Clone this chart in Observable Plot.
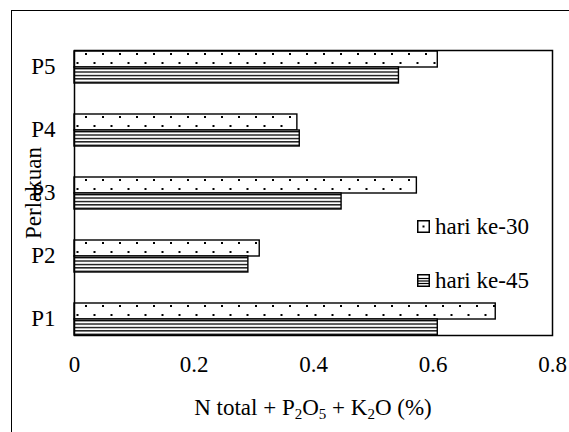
<!DOCTYPE html>
<html>
<head>
<meta charset="utf-8">
<script src="https://cdn.jsdelivr.net/npm/d3@7"></script>
<script src="https://cdn.jsdelivr.net/npm/@observablehq/plot@0.6"></script>
</head>
<body style="margin:0;font-family:'DejaVu Serif'">
<div id="wrap" style="position:relative;width:569px;height:432px;overflow:hidden;color:#000;font-family:'Liberation Serif','Times New Roman','DejaVu Serif',serif">
  <div style="position:absolute;left:11px;top:10px;width:700px;height:600px;border:1.3px solid #000;box-sizing:border-box"></div>
  <div id="chart" style="position:absolute;left:0;top:0"></div>
  <div style="position:absolute;left:33px;top:193px;transform:translate(-50%,-50%) rotate(-90deg);font-family:'Liberation Serif','Times New Roman','DejaVu Serif',serif;font-size:23px;white-space:nowrap;line-height:1">Perlakuan</div>
  <div style="position:absolute;left:313px;top:396px;transform:translateX(-50%);font-family:'Liberation Serif','Times New Roman','DejaVu Serif',serif;font-size:23px;white-space:nowrap;line-height:1">N total + P<sub style="font-size:15px;vertical-align:-4px;line-height:0">2</sub>O<sub style="font-size:15px;vertical-align:-4px;line-height:0">5</sub> + K<sub style="font-size:15px;vertical-align:-4px;line-height:0">2</sub>O (%)</div>
  <div style="position:absolute;left:417px;top:215px;font-family:'Liberation Serif','Times New Roman','DejaVu Serif',serif;font-size:23px;white-space:nowrap;line-height:1;display:flex;align-items:center">
    <svg width="13" height="13" style="margin-right:5px"><rect x="0.75" y="0.75" width="11.5" height="11.5" fill="#fff" stroke="#000" stroke-width="1.5"/><rect x="5.5" y="5.5" width="2" height="2" fill="#000"/></svg><span>hari ke-30</span>
  </div>
  <div style="position:absolute;left:417px;top:269px;font-family:'Liberation Serif','Times New Roman','DejaVu Serif',serif;font-size:23px;white-space:nowrap;line-height:1;display:flex;align-items:center">
    <svg width="13" height="13" style="margin-right:5px"><rect x="0.75" y="0.75" width="11.5" height="11.5" fill="#fff" stroke="#000" stroke-width="1.5"/><line x1="1" x2="12" y1="4.5" y2="4.5" stroke="#000" stroke-width="1.2"/><line x1="1" x2="12" y1="7" y2="7" stroke="#000" stroke-width="1.2"/><line x1="1" x2="12" y1="9.5" y2="9.5" stroke="#000" stroke-width="1.2"/></svg><span>hari ke-45</span>
  </div>
</div>
<script>
const categories = ["P1", "P2", "P3", "P4", "P5"];
const seriesKeys = ["30", "45"];
const seriesNames = ["hari ke-30", "hari ke-45"];
const day30 = [0.705, 0.310, 0.573, 0.373, 0.608];
const day45 = [0.608, 0.291, 0.447, 0.377, 0.543];
const xTicks = [0, 0.2, 0.4, 0.6, 0.8];

const data = categories.flatMap((c, i) => [
  {cat: c, s: seriesKeys[0], v: day30[i]},
  {cat: c, s: seriesKeys[1], v: day45[i]}
]);

const svg = Plot.plot({
  width: 569,
  height: 432,
  marginLeft: 74,
  marginRight: 17,
  marginTop: 33,
  marginBottom: 80,
  style: {fontFamily: "'Liberation Serif','Times New Roman','DejaVu Serif',serif", fontSize: "23px", color: "#000", background: "transparent"},
  x: {domain: [0, 0.8], ticks: xTicks, tickFormat: d => String(d), tickSize: 0, tickPadding: 20, label: null},
  fy: {domain: categories.slice().reverse(), paddingInner: 0.47, paddingOuter: 0.235, label: null, axis: "left", tickSize: 0, tickPadding: 19},
  y: {domain: seriesKeys, axis: null, padding: 0},
  marks: [
    Plot.barX(data, {x: "v", y: "s", fy: "cat", fill: d => d.s === "30" ? "url(#dots)" : "url(#hlines)", stroke: "#000", strokeWidth: 1.4}),
    Plot.frame({stroke: "#000", strokeWidth: 1.5, facet: "super"})
  ]
});

const ns = "http://www.w3.org/2000/svg";
const defs = document.createElementNS(ns, "defs");
defs.innerHTML = `
  <pattern id="dots" patternUnits="userSpaceOnUse" width="17" height="18">
    <rect width="17" height="18" fill="#fff"/>
    <rect x="0" y="0" width="2" height="2" fill="#000"/>
    <rect x="8.5" y="9" width="2" height="2" fill="#000"/>
  </pattern>
  <pattern id="hlines" patternUnits="userSpaceOnUse" width="10" height="3.4">
    <rect width="10" height="3.4" fill="#fff"/>
    <rect x="0" y="0" width="10" height="1.3" fill="#000"/>
  </pattern>`;
svg.insertBefore(defs, svg.firstChild);
document.getElementById("chart").appendChild(svg);
</script>
</body>
</html>
